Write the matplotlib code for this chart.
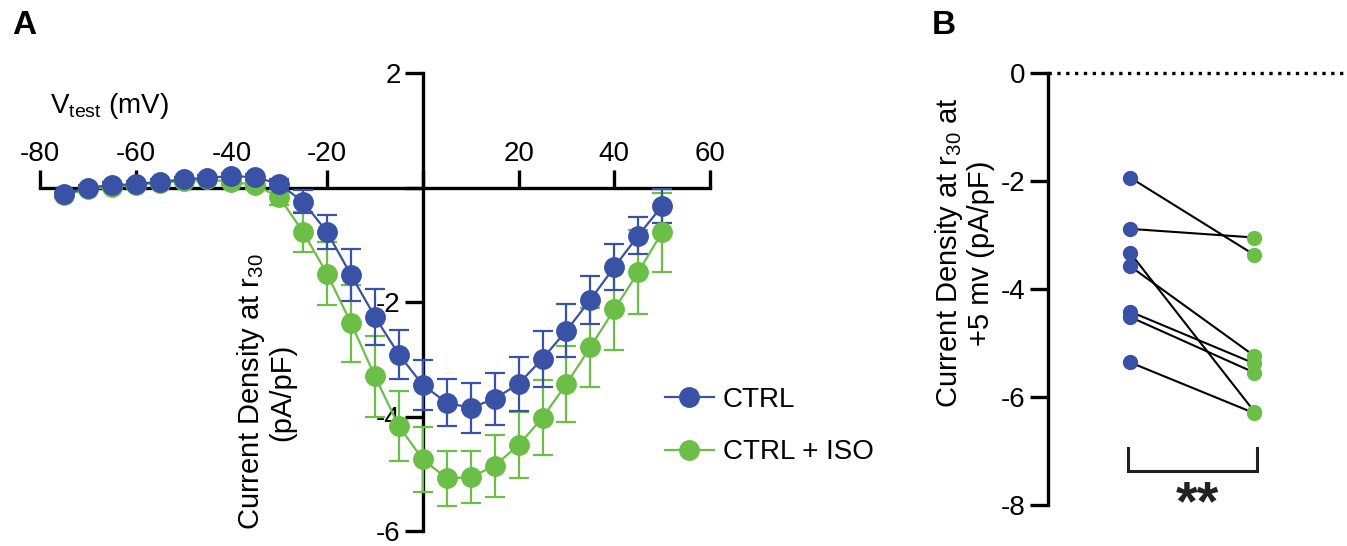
import matplotlib
matplotlib.use("Agg")
import matplotlib.pyplot as plt
from matplotlib.lines import Line2D

plt.rcParams['font.family'] = ['Liberation Sans', 'DejaVu Sans']
plt.rcParams['mathtext.fontset'] = 'custom'
plt.rcParams['mathtext.rm'] = 'Liberation Sans'
plt.rcParams['mathtext.it'] = 'Liberation Sans:italic'
plt.rcParams['mathtext.bf'] = 'Liberation Sans:bold'
plt.rcParams['axes.unicode_minus'] = False

# ---------------- data ----------------
voltage = [-75, -70, -65, -60, -55, -50, -45, -40, -35, -30, -25, -20, -15,
           -10, -5, 0, 5, 10, 15, 20, 25, 30, 35, 40, 45, 50]
ctrl_mean = [-0.12, 0.00, 0.04, 0.06, 0.10, 0.14, 0.17, 0.20, 0.18, 0.06, -0.25,
             -0.78, -1.53, -2.26, -2.92, -3.45, -3.76, -3.85, -3.69, -3.43,
             -2.99, -2.50, -1.96, -1.39, -0.84, -0.32]
ctrl_sem = [0.05, 0.05, 0.05, 0.05, 0.05, 0.05, 0.05, 0.05, 0.05, 0.08, 0.20,
            0.30, 0.45, 0.49, 0.43, 0.43, 0.41, 0.43, 0.45, 0.47,
            0.49, 0.46, 0.42, 0.40, 0.33, 0.30]
iso_mean = [-0.13, -0.03, 0.01, 0.04, 0.08, 0.11, 0.14, 0.10, 0.04, -0.17, -0.78,
            -1.51, -2.37, -3.30, -4.17, -4.75, -5.08, -5.06, -4.86, -4.50,
            -4.02, -3.43, -2.79, -2.13, -1.48, -0.78]
iso_sem = [0.05, 0.05, 0.05, 0.05, 0.05, 0.05, 0.05, 0.05, 0.06, 0.14, 0.35,
           0.55, 0.67, 0.70, 0.61, 0.57, 0.48, 0.45, 0.54, 0.58,
           0.66, 0.67, 0.69, 0.70, 0.73, 0.69]

xticks_a = [-80, -60, -40, -20, 0, 20, 40, 60]
xticklabels_a = ['-80', '-60', '-40', '-20', '', '20', '40', '60']
yticks_a = [-6, -4, -2, 0, 2]
yticklabels_a = ['-6', '-4', '-2', '', '2']

paired_ctrl = [-1.94, -2.89, -3.33, -3.58, -4.42, -4.52, -5.36]
paired_iso = [-3.37, -3.05, -6.27, -5.24, -5.38, -5.55, -6.30]
yticks_b = [0, -2, -4, -6, -8]

series_labels = ['CTRL', 'CTRL + ISO']
blue = '#3A52A6'
green = '#6BBF47'

W, H = 1347, 546
fig = plt.figure(figsize=(W / 100, H / 100), dpi=100)


def fx(px):
    return px / W


def fy(py):
    return 1 - py / H


# ---------------- panel A ----------------
axA = fig.add_axes([fx(40), fy(531), (710 - 40) / W, (531 - 73) / H])
axA.set_xlim(-80, 60)
axA.set_ylim(-6, 2)
axA.patch.set_visible(False)
for s in ['right', 'bottom']:
    axA.spines[s].set_visible(False)
axA.spines['top'].set_position(('data', 0))
axA.spines['left'].set_position(('data', 0))
for s in ['top', 'left']:
    axA.spines[s].set_linewidth(2.4)
axA.xaxis.set_ticks_position('top')
axA.yaxis.set_ticks_position('left')
axA.set_xticks(xticks_a)
axA.set_xticklabels(xticklabels_a)
axA.set_yticks(yticks_a)
axA.set_yticklabels(yticklabels_a)
axA.tick_params(axis='x', direction='out', length=13, width=2.4, pad=2, labelsize=20)
axA.tick_params(axis='y', direction='out', length=13, width=2.4, pad=3, labelsize=20)

for mean, sem, col in [(iso_mean, iso_sem, green), (ctrl_mean, ctrl_sem, blue)]:
    axA.errorbar(voltage, mean, yerr=sem, color=col, ecolor=col, lw=1.6,
                 elinewidth=1.6, capsize=7, capthick=1.6, marker='o', ms=14,
                 mec=col, mfc=col, zorder=4, clip_on=False)

handles = [Line2D([], [], color=blue, lw=1.6, marker='o', ms=14),
           Line2D([], [], color=green, lw=1.6, marker='o', ms=14)]
fig.legend(handles, series_labels, loc='upper left',
           bbox_to_anchor=(fx(665), fy(387)), bbox_transform=fig.transFigure,
           frameon=False, fontsize=20, handlelength=1.76, handletextpad=0.32,
           labelspacing=0.95, borderpad=0, borderaxespad=0)

fig.text(fx(50), fy(113), r'V$_{\mathrm{test}}$ (mV)', fontsize=20,
         ha='left', va='baseline')
fig.text(fx(266), fy(392), 'Current Density at r$_{\\mathrm{30}}$\n(pA/pF)',
         fontsize=21, rotation=90, ha='center', va='center',
         multialignment='center', linespacing=1.05)
fig.text(fx(12), fy(10), 'A', fontsize=24, fontweight='bold', ha='left', va='top')

# ---------------- panel B ----------------
axB = fig.add_axes([fx(1048), fy(505), (1345 - 1048) / W, (505 - 72.7) / H])
axB.set_xlim(-0.66, 1.73)
axB.set_ylim(-8, 0)
axB.patch.set_visible(False)
for s in ['right', 'bottom', 'top']:
    axB.spines[s].set_visible(False)
axB.spines['left'].set_linewidth(2.4)
axB.set_xticks([])
axB.set_yticks(yticks_b)
axB.set_yticklabels([str(t) for t in yticks_b])
axB.tick_params(axis='y', direction='out', length=13, width=2.4, pad=3, labelsize=20)

axB.axhline(0, ls=':', lw=2.4, color='black', zorder=1, clip_on=False)
for c, i in zip(paired_ctrl, paired_iso):
    axB.plot([0, 1], [c, i], color='black', lw=1.5, zorder=2)
axB.plot([0] * len(paired_ctrl), paired_ctrl, 'o', color=blue, ms=10, zorder=3)
axB.plot([1] * len(paired_iso), paired_iso, 'o', color=green, ms=10, zorder=3)

axB.plot([-0.02, -0.02, 1.02, 1.02], [-6.95, -7.37, -7.37, -6.95],
         color='#222222', lw=2.2, solid_joinstyle='miter')
axB.text(0.54, -8.27, '**', fontsize=40, fontweight='bold', ha='center',
         va='baseline', color='#222222', clip_on=False)

fig.text(fx(964), fy(253), 'Current Density at r$_{\\mathrm{30}}$ at\n+5 mv (pA/pF)',
         fontsize=21, rotation=90, ha='center', va='center',
         multialignment='center', linespacing=1.05)
fig.text(fx(932), fy(10), 'B', fontsize=24, fontweight='bold', ha='left', va='top')

fig.savefig('out.png', dpi=100)
